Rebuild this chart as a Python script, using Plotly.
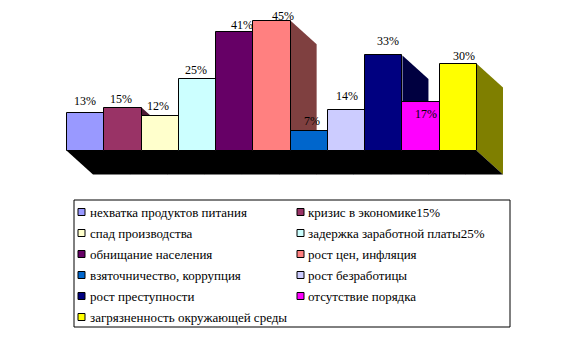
import plotly.graph_objects as go

# ---------------- data ----------------
categories = [
    "нехватка продуктов питания",
    "кризис в экономике15%",
    "спад производства",
    "задержка заработной платы25%",
    "обнищание населения",
    "рост цен, инфляция",
    "взяточничество, коррупция",
    "рост безработицы",
    "рост преступности",
    "отсутствие порядка",
    "загрязненность окружающей среды",
]
values = [13, 15, 12, 25, 41, 45, 7, 14, 33, 17, 30]
value_labels = ["13%", "15%", "12%", "25%", "41%", "45%", "7%", "14%", "33%", "17%", "30%"]

# ---------------- style ----------------
colors = ["#9999FF", "#993366", "#FFFFCC", "#CCFFFF", "#660066", "#FF8080",
          "#0066CC", "#CCCCFF", "#000080", "#FF00FF", "#FFFF00"]
label_dx = [-1, -2, -2, -1, 7, 11, 3, 0, 4, 5, 6]      # px nudges of value labels
label_dy = [12, 9, 10, 9, 7, 5, 10, 14, 14, -12, 8]    # px above bar top (centre)

W, H = 588, 339
FONT = "Liberation Serif"

# pixel geometry of plot (plot area = whole page)
x_left_px, x_right_px = 67, 477
base_px = 151
sx = (x_right_px - x_left_px) / len(values)   # px per category
sy = 2.897                                     # px per percent
depth_px = (26, 23.5)

xr = [-0.5 - x_left_px / sx, -0.5 + (W - x_left_px) / sx]
yr = [-(H - base_px) / sy, base_px / sy]
ddx = depth_px[0] / sx
ddy = -depth_px[1] / sy


def darker(hexc):
    h = hexc.lstrip("#")
    r, g, b = (int(h[i:i + 2], 16) // 2 for i in (0, 2, 4))
    return f"#{r:02X}{g:02X}{b:02X}"


def px2paper(px, py):
    return px / W, 1 - py / H


xs = list(range(len(values)))

fig = go.Figure()
fig.add_trace(go.Bar(
    x=xs, y=values, width=1,
    marker=dict(color=colors, line=dict(color="black", width=1)),
    showlegend=False, hoverinfo="skip",
))

shapes = []
# side faces (drawn below bars)
for i, v in enumerate(values):
    xr_ = i + 0.5
    path = (f"M{xr_},{v} L{xr_ + ddx},{v + ddy} L{xr_ + ddx},{ddy} "
            f"L{xr_},0 Z")
    shapes.append(dict(type="path", path=path, xref="x", yref="y",
                       fillcolor=darker(colors[i]), line=dict(width=0),
                       layer="below"))
# floor
n = len(values)
floor = (f"M-0.5,0 L{n - 0.5},0 L{n - 0.5 + ddx},{ddy} "
         f"L{-0.5 + ddx},{ddy} Z")
shapes.append(dict(type="path", path=floor, xref="x", yref="y",
                   fillcolor="black", line=dict(width=0), layer="below"))

annotations = []
for i, (v, t) in enumerate(zip(values, value_labels)):
    annotations.append(dict(
        x=i, y=v, xref="x", yref="y", text=t, showarrow=False,
        xanchor="center", yanchor="middle",
        xshift=label_dx[i], yshift=label_dy[i],
        font=dict(family=FONT, size=12, color="black"),
    ))

# ---------------- manual legend ----------------
box = (74, 200, 510, 327)
x0, y0 = px2paper(box[0], box[1])
x1, y1 = px2paper(box[2], box[3])
shapes.append(dict(type="rect", xref="paper", yref="paper",
                   x0=x0, y0=y1, x1=x1, y1=y0,
                   line=dict(color="black", width=1), fillcolor="rgba(0,0,0,0)"))

col_marker = [78, 297]
col_text = [88, 306]
row0, row_step, msz = 212, 21, 7
for i, name in enumerate(categories):
    r, c = divmod(i, 2)
    cy = row0 + r * row_step
    mx0, my0 = px2paper(col_marker[c], cy - msz / 2)
    mx1, my1 = px2paper(col_marker[c] + msz, cy + msz / 2)
    shapes.append(dict(type="rect", xref="paper", yref="paper",
                       x0=mx0, y0=my1, x1=mx1, y1=my0,
                       fillcolor=colors[i], line=dict(color="black", width=1)))
    tx, ty = px2paper(col_text[c], cy)
    annotations.append(dict(
        x=tx, y=ty, xref="paper", yref="paper", text=name, showarrow=False,
        xanchor="left", yanchor="middle",
        font=dict(family=FONT, size=13, color="black"),
    ))

fig.update_layout(
    width=W, height=H,
    margin=dict(l=0, r=0, t=0, b=0),
    paper_bgcolor="white", plot_bgcolor="white",
    bargap=0,
    font=dict(family=FONT),
    xaxis=dict(range=xr, visible=False, fixedrange=True),
    yaxis=dict(range=yr, visible=False, fixedrange=True),
    shapes=shapes, annotations=annotations,
    showlegend=False,
)

fig.write_html("out.html")
